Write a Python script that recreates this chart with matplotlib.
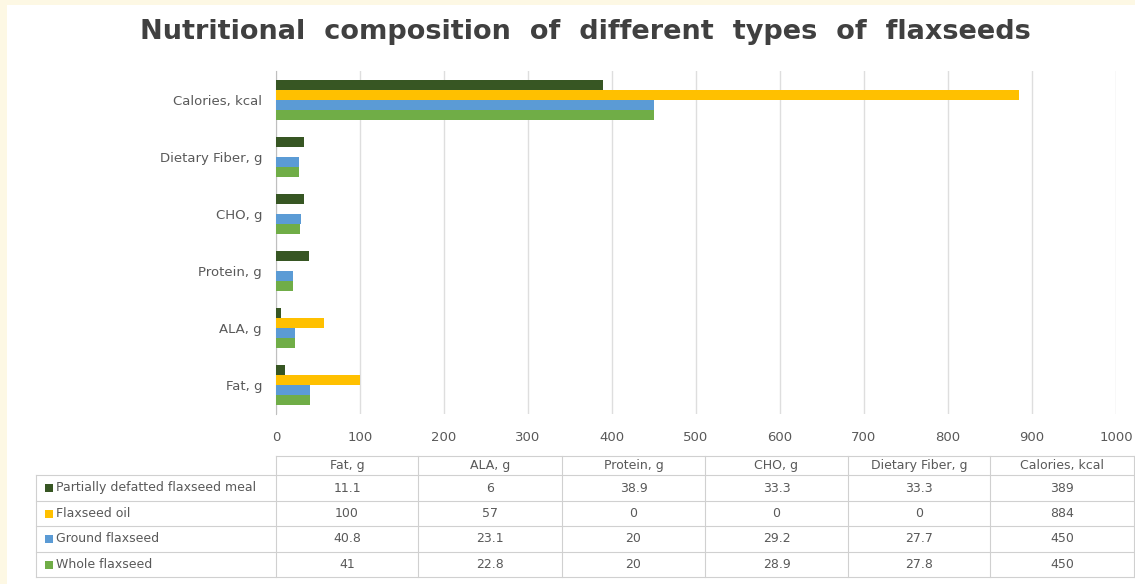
import matplotlib.pyplot as plt
from matplotlib.patches import Rectangle
from matplotlib.lines import Line2D
import numpy as np

# Data
categories = ["Fat, g", "ALA, g", "Protein, g", "CHO, g", "Dietary Fiber, g", "Calories, kcal"]
series_names = ["Partially defatted flaxseed meal", "Flaxseed oil", "Ground flaxseed", "Whole flaxseed"]
meal_values = [11.1, 6, 38.9, 33.3, 33.3, 389]
oil_values = [100, 57, 0, 0, 0, 884]
ground_values = [40.8, 23.1, 20, 29.2, 27.7, 450]
whole_values = [41, 22.8, 20, 28.9, 27.8, 450]
x_ticks = [0, 100, 200, 300, 400, 500, 600, 700, 800, 900, 1000]

colors = ["#375623", "#FFC000", "#5B9BD5", "#70AD47"]
all_values = [meal_values, oil_values, ground_values, whole_values]

W, H = 1135, 584
fig = plt.figure(figsize=(W / 100, H / 100), dpi=100)
fig.patch.set_facecolor("#FDF8E4")


def fx(px):
    return px / W


def fy(py):
    return 1 - py / H


# white panel behind everything
fig.patches.append(Rectangle((fx(7), 0), 1 - fx(7), fy(5), transform=fig.transFigure,
                             facecolor="white", edgecolor="none", zorder=-10))

ax = fig.add_axes([fx(276), fy(414), fx(1116) - fx(276), fy(71) - fy(414)])
ax.set_zorder(1)
ax.set_facecolor("white")

y = np.arange(len(categories))
h = 0.175
offsets = [1.5 * h, 0.5 * h, -0.5 * h, -1.5 * h]
for vals, c, off, name in zip(all_values, colors, offsets, series_names):
    ax.barh(y + off, vals, height=h, color=c, label=name, zorder=3)

ax.set_xlim(0, 1000)
ax.set_ylim(-0.5, len(categories) - 0.5)
ax.set_xticks(x_ticks)
ax.set_xticklabels([str(t) for t in x_ticks], fontsize=9.5, color="#595959")
ax.set_yticks(y)
ax.set_yticklabels(categories, fontsize=9.5, color="#595959")
ax.tick_params(length=0)
ax.tick_params(axis="x", pad=12)
ax.tick_params(axis="y", pad=10)
ax.grid(axis="x", color="#DEDEDE", linewidth=1, zorder=0)
for s in ["top", "right", "bottom"]:
    ax.spines[s].set_visible(False)
ax.spines["left"].set_color("#BFBFBF")

fig.text(fx(585), fy(32), "Nutritional  composition  of  different  types  of  flaxseeds",
         ha="center", va="center", fontsize=19.5, fontweight="bold", color="#404040")

# data table
col_edges = [276, 418, 562, 705, 848, 990, 1134]
row_edges = [456, 475, 501, 526, 552, 577]
line_kw = dict(color="#D0D0D0", linewidth=0.8, transform=fig.transFigure)

# horizontal lines
fig.add_artist(Line2D([fx(276), fx(1134)], [fy(456), fy(456)], **line_kw))
for r in row_edges[1:]:
    fig.add_artist(Line2D([fx(36), fx(1134)], [fy(r), fy(r)], **line_kw))
# vertical lines
fig.add_artist(Line2D([fx(36), fx(36)], [fy(475), fy(577)], **line_kw))
for c in col_edges:
    fig.add_artist(Line2D([fx(c), fx(c)], [fy(456), fy(577)], **line_kw))

for j, cat in enumerate(categories):
    cx = (col_edges[j] + col_edges[j + 1]) / 2
    fig.text(fx(cx), fy((row_edges[0] + row_edges[1]) / 2), cat, ha="center", va="center",
             fontsize=9, color="#595959")
    for i, vals in enumerate(all_values):
        cy = (row_edges[i + 1] + row_edges[i + 2]) / 2
        fig.text(fx(cx), fy(cy), f"{vals[j]:g}", ha="center", va="center",
                 fontsize=9, color="#595959")

for i, (name, c) in enumerate(zip(series_names, colors)):
    cy = (row_edges[i + 1] + row_edges[i + 2]) / 2
    fig.patches.append(Rectangle((fx(45), fy(cy + 4)), fx(8), 8 / H, transform=fig.transFigure,
                                 facecolor=c, edgecolor="none"))
    fig.text(fx(56), fy(cy), name, ha="left", va="center", fontsize=9, color="#595959")

fig.savefig("out.png", dpi=100, facecolor=fig.get_facecolor())
